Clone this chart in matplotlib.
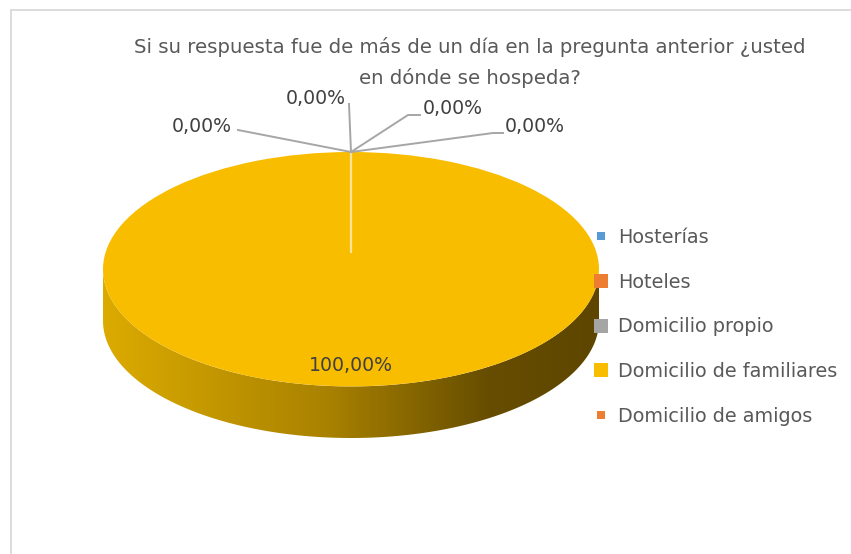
import numpy as np
import matplotlib
matplotlib.use("Agg")
import matplotlib.pyplot as plt
from matplotlib.patches import Rectangle, Polygon
from matplotlib.lines import Line2D
from matplotlib.colors import LinearSegmentedColormap

title = "Si su respuesta fue de más de un día en la pregunta anterior ¿usted\nen dónde se hospeda?"
categories = ["Hosterías", "Hoteles", "Domicilio propio", "Domicilio de familiares", "Domicilio de amigos"]
values = [0.0, 0.0, 0.0, 100.0, 0.0]
colors = ["#5b9bd5", "#ed7d31", "#a5a5a5", "#f9bd00", "#ed7d31"]

W, H = 851, 554
fig = plt.figure(figsize=(W / 100, H / 100), dpi=100)


def px(x, y):
    return (x / W, 1 - y / H)


# chart border
fig.add_artist(Rectangle(px(11, 600), 2, (600 - 10) / H, transform=fig.transFigure,
                         fill=False, edgecolor="#d9d9d9", lw=1.3))

fig.text(470 / W, 1 - 62.5 / H, title, ha="center", va="center", fontsize=14.2,
         color="#595959", linespacing=1.65)

# pie axes (elliptical top face + side)
depth = 0.44
ax = fig.add_axes([103 / W, 1 - 438 / H, 496 / W, 286 / H])
wedges, _ = ax.pie(values, colors=colors, startangle=90, counterclock=False,
                   wedgeprops=dict(edgecolor="none"))
for w in wedges:
    w.set_zorder(3)
ax.set_aspect("auto")
ax.axis("off")

t = np.linspace(np.pi, 2 * np.pi, 200)
xs, ys = np.cos(t), np.sin(t)
side = np.vstack([np.column_stack([xs, ys]), np.column_stack([xs[::-1], ys[::-1] - depth])])
poly = Polygon(side, closed=True, facecolor="none", edgecolor="none", zorder=1)
ax.add_patch(poly)
cmap = LinearSegmentedColormap.from_list(
    "side", [(0, "#dcab00"), (0.45, "#a98200"), (0.78, "#664d00"), (1, "#5e4600")])
grad = np.linspace(0, 1, 256).reshape(1, -1)
im = ax.imshow(grad, cmap=cmap, extent=(-1, 1, -1 - depth, 0), aspect="auto", zorder=1)
im.set_clip_path(poly)
ax.set_xlim(-1, 1)
ax.set_ylim(-1 - depth, 1)

# slice border at the top
ax.plot([0, 0], [0.15, 1], color="#fde39a", lw=1.6, zorder=4)

# labels
ax.text(0, -0.82, "100,00%", ha="center", va="center", fontsize=13.6, color="#404040", zorder=5)

top = fig.transFigure.inverted().transform(ax.transData.transform((0, 1)))
zero_labels = [
    ((232, 127), "right", [(238, 130)]),
    ((316, 98), "center", [(349, 104)]),
    ((423, 108), "left", [(420, 115), (408, 115)]),
    ((505, 127), "left", [(503, 133), (493, 133)]),
]
for (pos, ha, pts) in zero_labels:
    fig.text(*px(*pos), "0,00%", ha=ha, va="center", fontsize=13.6, color="#404040")
    xy = [px(*p) for p in pts] + [tuple(top)]
    fig.add_artist(Line2D([p[0] for p in xy], [p[1] for p in xy], transform=fig.transFigure,
                          color="#a6a6a6", lw=1.4))

# legend
sizes = [5.8, 10, 10, 10, 5.8]
handles = [Line2D([], [], marker="s", ls="none", markersize=s, color=c, markeredgewidth=0)
           for s, c in zip(sizes, colors)]
leg = fig.legend(handles, categories, loc="upper left", bbox_to_anchor=px(594, 228),
                 frameon=False, fontsize=13.9, labelcolor="#595959", labelspacing=1.33,
                 handlelength=0.7, handletextpad=0.55, borderaxespad=0, borderpad=0)

fig.savefig("out.png", dpi=100, facecolor="white")
